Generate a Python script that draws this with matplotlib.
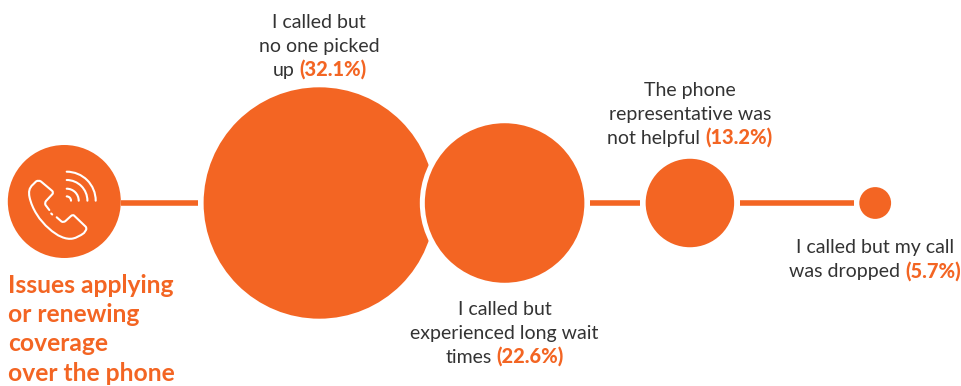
#!/usr/bin/env python3
"""Bubble chain: reasons people had trouble applying or renewing coverage by phone."""
import matplotlib
matplotlib.use('Agg')
import matplotlib.pyplot as plt
from matplotlib.patches import Arc, Circle, PathPatch
from matplotlib.path import Path

ORANGE = '#F36523'
DARK = '#333333'
FONT = 'Lato'

TITLE_LINES = ['Issues applying', 'or renewing', 'coverage', 'over the phone']
VALUES = [32.1, 22.6, 13.2, 5.7]
LABELS = [
    ['I called but', 'no one picked', 'up'],
    ['I called but', 'experienced long wait', 'times'],
    ['The phone', 'representative was', 'not helpful'],
    ['I called but my call', 'was dropped'],
]

W, H = 961, 386
CY = 203
X0, STEP = 319.3, 185.3
GAP = 5.5
BODY_SIZE = 14.0
PCT_SIZE = 14.4
TITLE_SIZE = 17.7
LINE_H = 24
# first baseline of each label block
LABEL_BASE = [27.8, 314.8, 95.8, 253.5]


def radius(v):
    # bubble radius in pixels, linear in the percentage
    return 3.78 * v - 5.65


def draw_line(ax, xc, y, text, pct=None):
    """Centred line of body text, with an optional bold orange percentage after it."""
    rend = ax.figure.canvas.get_renderer()
    t1 = ax.text(0, y, text, fontsize=BODY_SIZE, color=DARK, family=FONT, va='baseline')
    if pct is None:
        t1.set_ha('center')
        t1.set_x(xc)
        return
    t2 = ax.text(0, y, pct, fontsize=PCT_SIZE, color=ORANGE, family=FONT,
                 weight='black', va='baseline')
    w1 = t1.get_window_extent(rend).width
    w2 = t2.get_window_extent(rend).width
    space = 5
    left = xc - (w1 + space + w2) / 2
    t1.set_x(left)
    t2.set_x(left + w1 + space)


def draw_phone(ax):
    # handset outline, from the mouthpiece notch round to the earpiece notch
    steps = [
        (Path.MOVETO, (49.3, 210)),
        (Path.LINETO, (45.5, 205)),
        (Path.CURVE3, (44.5, 203)), (Path.CURVE3, (46, 201)),
        (Path.LINETO, (52.5, 194)),
        (Path.CURVE3, (53.5, 192.5)), (Path.CURVE3, (52.3, 191)),
        (Path.LINETO, (41, 181.5)),
        (Path.CURVE3, (38.5, 179.8)), (Path.CURVE3, (36, 181.5)),
        (Path.LINETO, (33, 184.5)),
        (Path.CURVE4, (29, 188)), (Path.CURVE4, (28.5, 192)), (Path.CURVE4, (29.5, 197)),
        (Path.CURVE4, (32, 209)), (Path.CURVE4, (40, 221)), (Path.CURVE4, (49, 228.5)),
        (Path.CURVE4, (57, 236)), (Path.CURVE4, (66, 240)), (Path.CURVE4, (73, 238.5)),
        (Path.CURVE3, (78, 237.5)), (Path.CURVE3, (84, 233)),
        (Path.LINETO, (86, 230)),
        (Path.CURVE3, (87, 228)), (Path.CURVE3, (85.5, 226.5)),
        (Path.LINETO, (74, 215.5)),
        (Path.CURVE3, (72.7, 214.5)), (Path.CURVE3, (71, 216)),
        (Path.LINETO, (65.5, 221)),
        (Path.CURVE3, (63.5, 222.7)), (Path.CURVE3, (61.5, 221.5)),
        (Path.LINETO, (56.7, 217.3)),
        # small dash in the gap
        (Path.MOVETO, (51.2, 213.5)),
        (Path.LINETO, (52.2, 214.5)),
    ]
    codes = [c for c, _ in steps]
    verts = [p for _, p in steps]
    ax.add_patch(PathPatch(Path(verts, codes), fill=False, edgecolor='white', lw=1.5,
                           capstyle='round', joinstyle='round', zorder=5))
    # signal arcs
    for r in [4.3, 12, 20.7, 29]:
        ax.add_patch(Arc((66.7, 200.7), 2 * r, 2 * r, theta1=270, theta2=360,
                         edgecolor='white', lw=1.5, capstyle='round', zorder=5))


fig = plt.figure(figsize=(W / 100, H / 100), dpi=100)
ax = fig.add_axes([0, 0, 1, 1])
ax.set_xlim(0, W)
ax.set_ylim(H, 0)
ax.axis('off')
fig.canvas.draw()

# icon circle and title
icon_x, icon_y, icon_r = 64.3, 201.5, 56.5
ax.add_patch(Circle((icon_x, icon_y), icon_r, color=ORANGE, lw=0))
draw_phone(ax)
for line, y in zip(TITLE_LINES, [292.8, 321.8, 351.3, 380.8]):
    ax.text(8.5, y, line, fontsize=TITLE_SIZE, color=ORANGE, family=FONT, weight='bold', va='baseline')

xs = [X0 + STEP * i for i in range(len(VALUES))]
rs = [radius(v) for v in VALUES]

# connecting stems
stems = [(icon_x + icon_r, xs[0] - rs[0] - GAP)]
stems += [(xs[i] + rs[i] + GAP, xs[i + 1] - rs[i + 1] - GAP) for i in (1, 2)]
for a, b in stems:
    ax.plot([a, b], [CY, CY], color=ORANGE, lw=4.0, solid_capstyle='butt', zorder=1)

# bubbles, each later one cutting a white ring out of the previous
for x, r in zip(xs, rs):
    ax.add_patch(Circle((x, CY), r + 5, color='white', lw=0, zorder=2))
    ax.add_patch(Circle((x, CY), r, color=ORANGE, lw=0, zorder=2))

for x, v, lines, base in zip(xs, VALUES, LABELS, LABEL_BASE):
    for i, line in enumerate(lines):
        pct = f'({v}%)' if i == len(lines) - 1 else None
        draw_line(ax, x, base + i * LINE_H, line, pct)

fig.savefig('out.png', dpi=100)
